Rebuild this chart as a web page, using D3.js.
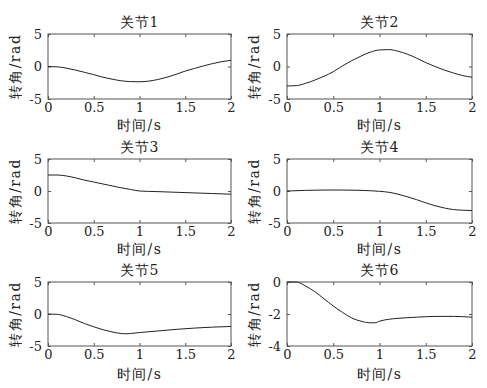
<!DOCTYPE html>
<html>
<head>
<meta charset="utf-8">
<script src="https://cdn.jsdelivr.net/npm/d3@7"></script>
<style>
  body { margin: 0; background: #fff; }
  svg text { fill: #222; }
</style>
</head>
<body>
<svg id="canvas" width="487" height="388"></svg>
<script>
// joint angle curves (t in s, angle in rad)
var joint1T = [0, 0.1, 0.2, 0.3, 0.4, 0.5, 0.6, 0.7, 0.8, 0.9, 1.0, 1.1, 1.2, 1.3, 1.4, 1.5, 1.6, 1.7, 1.8, 1.9, 2.0];
var joint1Y = [0, -0.05, -0.25, -0.55, -0.9, -1.25, -1.65, -1.95, -2.2, -2.32, -2.35, -2.25, -2.0, -1.65, -1.2, -0.7, -0.3, 0.1, 0.45, 0.75, 0.95];

var joint2T = [0, 0.1, 0.2, 0.3, 0.4, 0.5, 0.6, 0.7, 0.8, 0.9, 1.0, 1.1, 1.2, 1.3, 1.4, 1.5, 1.6, 1.7, 1.8, 1.9, 2.0];
var joint2Y = [-3.0, -2.95, -2.6, -2.1, -1.5, -0.8, 0.1, 0.9, 1.6, 2.2, 2.55, 2.6, 2.35, 1.9, 1.3, 0.6, 0.0, -0.55, -1.0, -1.4, -1.65];

var joint3T = [0, 0.1, 0.2, 0.3, 0.4, 0.5, 0.6, 0.7, 0.8, 0.9, 1.0, 1.2, 1.4, 1.6, 1.8, 2.0];
var joint3Y = [2.5, 2.5, 2.35, 2.05, 1.7, 1.4, 1.1, 0.8, 0.5, 0.25, 0.0, -0.1, -0.2, -0.3, -0.4, -0.5];

var joint4T = [0, 0.2, 0.4, 0.6, 0.8, 1.0, 1.1, 1.2, 1.3, 1.4, 1.5, 1.6, 1.7, 1.8, 1.9, 2.0];
var joint4Y = [0, 0.1, 0.15, 0.15, 0.1, -0.05, -0.2, -0.5, -0.9, -1.35, -1.85, -2.3, -2.65, -2.9, -3.0, -3.05];

var joint5T = [0, 0.1, 0.2, 0.3, 0.4, 0.5, 0.6, 0.7, 0.8, 0.85, 0.9, 1.0, 1.2, 1.4, 1.6, 1.8, 2.0];
var joint5Y = [0, -0.05, -0.4, -0.9, -1.5, -2.0, -2.45, -2.8, -3.05, -3.1, -3.05, -2.9, -2.65, -2.4, -2.2, -2.05, -1.95];

var joint6T = [0, 0.1, 0.2, 0.3, 0.4, 0.5, 0.6, 0.7, 0.8, 0.9, 0.95, 1.0, 1.1, 1.2, 1.4, 1.6, 1.8, 2.0];
var joint6Y = [0, 0, -0.25, -0.6, -1.05, -1.5, -1.9, -2.25, -2.45, -2.55, -2.55, -2.45, -2.33, -2.27, -2.2, -2.15, -2.15, -2.2];

var titles = ['关节1', '关节2', '关节3', '关节4', '关节5', '关节6'];
var yDomains = [[-5, 5], [-5, 5], [-5, 5], [-5, 5], [-5, 5], [-4, 0]];
var yTickVals = [[-5, 0, 5], [-5, 0, 5], [-5, 0, 5], [-5, 0, 5], [-5, 0, 5], [-4, -2, 0]];
var xTickVals = [0, 0.5, 1, 1.5, 2];
var xLabel = '时间/s';
var yLabel = '转角/rad';

var series = [
  [joint1T, joint1Y], [joint2T, joint2Y], [joint3T, joint3Y],
  [joint4T, joint4Y], [joint5T, joint5Y], [joint6T, joint6Y]
];

var serifFont = "'DejaVu Serif', serif";

var colX = [[48, 231], [287, 472]];
var rowY = [[34, 99], [159, 223], [282, 346]];
var xLabelGap = [31, 31, 33];

var svg = d3.select('#canvas');

function styleAxis(a) {
  a.attr('font-family', null).attr('font-size', null);
  a.select('.domain').remove();
  a.selectAll('line').attr('stroke', '#555');
  a.selectAll('text').style('font-family', serifFont).style('font-size', '13px').style('fill', '#222');
}

series.forEach(function (s, i) {
  var col = i % 2, row = Math.floor(i / 2);
  var x0 = colX[col][0], x1 = colX[col][1];
  var y0 = rowY[row][0], y1 = rowY[row][1];
  var w = x1 - x0, h = y1 - y0;

  var x = d3.scaleLinear().domain([0, 2]).range([0, w]);
  var y = d3.scaleLinear().domain(yDomains[i]).range([h, 0]);

  var g = svg.append('g').attr('transform', 'translate(' + x0 + ',' + y0 + ')');

  // box
  g.append('rect').attr('width', w).attr('height', h)
    .attr('fill', 'none').attr('stroke', '#555').attr('stroke-width', 1);

  // inward ticks on all four sides
  var tickLen = 3;
  g.append('g').attr('transform', 'translate(0,' + h + ')')
    .call(d3.axisBottom(x).tickValues(xTickVals).tickSizeInner(-tickLen).tickSizeOuter(0).tickPadding(4)
      .tickFormat(function (d) { return String(d); }))
    .call(styleAxis);
  g.append('g')
    .call(d3.axisTop(x).tickValues(xTickVals).tickSizeInner(-tickLen).tickSizeOuter(0).tickFormat(''))
    .call(styleAxis);
  g.append('g')
    .call(d3.axisLeft(y).tickValues(yTickVals[i]).tickSizeInner(-tickLen).tickSizeOuter(0).tickPadding(6)
      .tickFormat(function (d) { return String(d); }))
    .call(styleAxis);
  g.append('g').attr('transform', 'translate(' + w + ',0)')
    .call(d3.axisRight(y).tickValues(yTickVals[i]).tickSizeInner(-tickLen).tickSizeOuter(0).tickFormat(''))
    .call(styleAxis);

  // curve
  var pts = s[0].map(function (t, k) { return [t, s[1][k]]; });
  var line = d3.line().x(function (d) { return x(d[0]); }).y(function (d) { return y(d[1]); })
    .curve(d3.curveMonotoneX);
  g.append('path').datum(pts).attr('d', line)
    .attr('fill', 'none').attr('stroke', '#222').attr('stroke-width', 1);

  // title
  g.append('text').attr('x', w / 2).attr('y', -7).attr('text-anchor', 'middle')
    .style('font-family', serifFont).style('font-size', '14px').style('letter-spacing', '1px')
    .text(titles[i]);

  // x label
  g.append('text').attr('x', w / 2).attr('y', h + xLabelGap[row]).attr('text-anchor', 'middle')
    .style('font-family', serifFont).style('font-size', '14px').style('letter-spacing', '1.5px')
    .text(xLabel);

  // y label
  g.append('text').attr('transform', 'translate(' + (-28) + ',' + (h / 2) + ') rotate(-90)')
    .attr('text-anchor', 'middle')
    .style('font-family', serifFont).style('font-size', '14px').style('letter-spacing', '1.5px')
    .text(yLabel);
});
</script>
</body>
</html>
